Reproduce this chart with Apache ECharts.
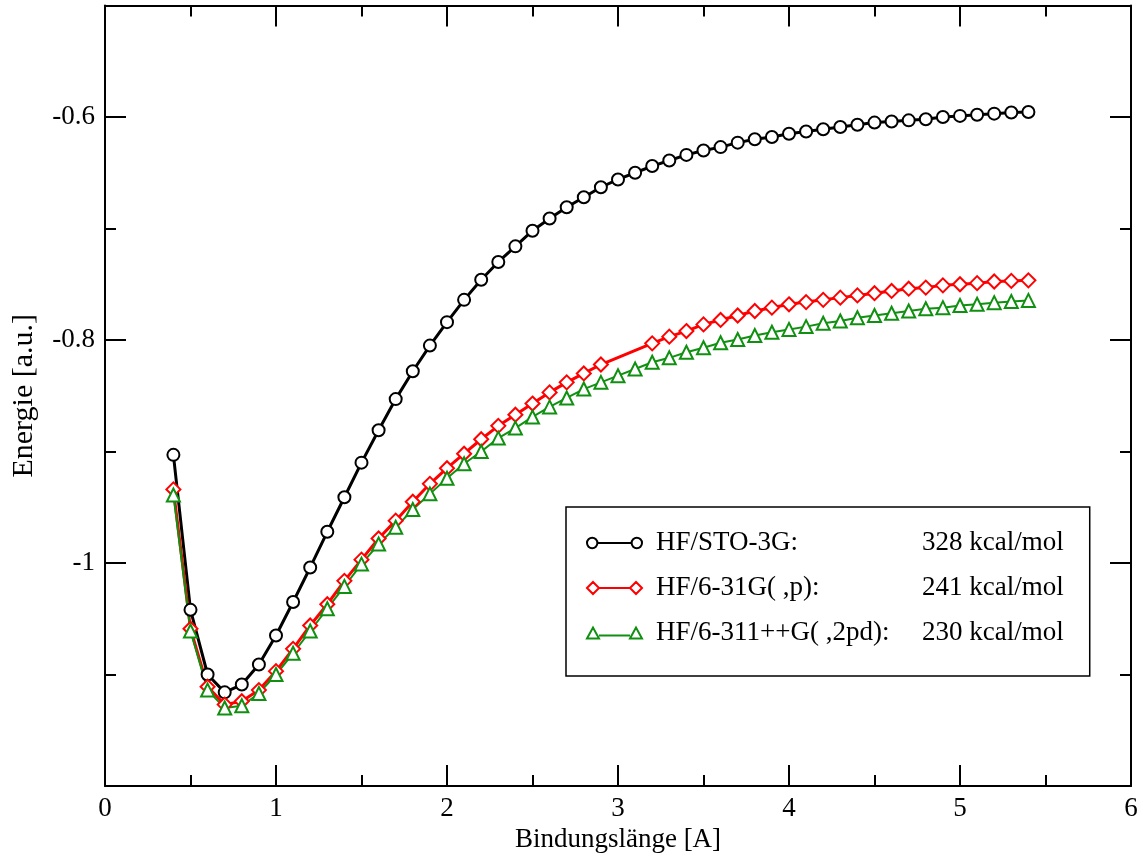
<!DOCTYPE html>
<html>
<head>
<meta charset="utf-8">
<title>Bindungslänge</title>
<script src="https://cdn.jsdelivr.net/npm/echarts@6.0.0/dist/echarts.min.js"></script>
<style>
  html, body { margin: 0; padding: 0; background: #fff; }
  #chart { width: 1143px; height: 860px; }
</style>
</head>
<body>
<div id="chart"></div>
<script>
// bond length [A]
var bondLengths = [0.4, 0.5, 0.6, 0.7, 0.8, 0.9, 1.0, 1.1, 1.2, 1.3,
                   1.4, 1.5, 1.6, 1.7, 1.8, 1.9, 2.0, 2.1, 2.2, 2.3,
                   2.4, 2.5, 2.6, 2.7, 2.8, 2.9, 3.0, 3.1, 3.2, 3.3,
                   3.4, 3.5, 3.6, 3.7, 3.8, 3.9, 4.0, 4.1, 4.2, 4.3,
                   4.4, 4.5, 4.6, 4.7, 4.8, 4.9, 5.0, 5.1, 5.2, 5.3, 5.4];

var energySTO3G = [-0.903, -1.042, -1.100, -1.116, -1.109, -1.091, -1.065, -1.035, -1.004, -0.972,
                   -0.941, -0.910, -0.881, -0.853, -0.828, -0.805, -0.784, -0.764, -0.746, -0.730,
                   -0.716, -0.702, -0.691, -0.681, -0.672, -0.663, -0.656, -0.650, -0.644, -0.639,
                   -0.634, -0.630, -0.627, -0.623, -0.620, -0.618, -0.615, -0.613, -0.611, -0.609,
                   -0.607, -0.605, -0.604, -0.603, -0.602, -0.600, -0.599, -0.598, -0.597, -0.596, -0.5955];

// 3.0 and 3.1 are missing in this set
var energy631G = [-0.934, -1.059, -1.111, -1.127, -1.124, -1.114, -1.097, -1.077, -1.056, -1.037,
                  -1.016, -0.997, -0.978, -0.962, -0.945, -0.929, -0.915, -0.902, -0.889, -0.877,
                  -0.867, -0.857, -0.847, -0.838, -0.830, -0.822, null, null, -0.803, -0.797,
                  -0.792, -0.786, -0.782, -0.778, -0.774, -0.771, -0.768, -0.766, -0.764, -0.762,
                  -0.760, -0.758, -0.756, -0.754, -0.753, -0.751, -0.750, -0.749, -0.7475, -0.747, -0.7465];

var energy6311G = [-0.939, -1.061, -1.114, -1.130, -1.128, -1.117, -1.100, -1.081, -1.061, -1.041,
                   -1.021, -1.001, -0.983, -0.968, -0.952, -0.938, -0.924, -0.911, -0.900, -0.888,
                   -0.879, -0.869, -0.860, -0.852, -0.844, -0.838, -0.832, -0.826, -0.820, -0.816,
                   -0.811, -0.807, -0.8025, -0.7995, -0.796, -0.793, -0.7905, -0.788, -0.785, -0.783,
                   -0.780, -0.778, -0.776, -0.774, -0.772, -0.771, -0.769, -0.768, -0.7665, -0.7655, -0.7645];

var seriesNames = ['HF/STO-3G:', 'HF/6-31G( ,p):', 'HF/6-311++G( ,2pd):'];
var bindingEnergies = [328, 241, 230];
var yLabelValues = [-0.6, -0.8, -1];

var FONT = 'Liberation Serif';

function toPairs(ys) {
    var out = [];
    for (var i = 0; i < bondLengths.length; i++) {
        out.push([bondLengths[i], ys[i]]);
    }
    return out;
}

// legend icons: marker - line - marker
var iconCircle = 'path://M1,6 A5,5 0 1,1 11,6 A5,5 0 1,1 1,6 Z M44,6 A5,5 0 1,1 54,6 A5,5 0 1,1 44,6 Z M11,6 L44,6';
var iconDiamond = 'path://M0,6 L6,0 L12,6 L6,12 Z M43,6 L49,0 L55,6 L49,12 Z M12,6 L43,6';
var iconTriangle = 'path://M0,12 L6,1 L12,12 Z M43,12 L49,1 L55,12 Z M12,9 L43,9';

var tickLine = { color: '#000', width: 2 };

var yBase = { type: 'value', min: -1.2, max: -0.5, splitLine: { show: false } };

var chart = echarts.init(document.getElementById('chart'));

var option = {
    animation: false,
    backgroundColor: '#fff',
    grid: { left: 105, right: 12, top: 5.5, bottom: 74, outerBoundsMode: 'none', containLabel: false },
    legend: {
        orient: 'vertical',
        left: 566,
        top: 507,
        padding: [21, 26, 28, 20],
        itemGap: 15,
        itemWidth: 55,
        itemHeight: 12,
        borderColor: '#000',
        borderWidth: 1.5,
        borderRadius: 0,
        backgroundColor: '#fff',
        selectedMode: false,
        textStyle: {
            fontFamily: FONT, fontSize: 27, color: '#000', lineHeight: 30, padding: [0, 0, 0, 9],
            rich: {
                n: { fontFamily: FONT, fontSize: 27, color: '#000', width: 266 },
                v: { fontFamily: FONT, fontSize: 27, color: '#000' }
            }
        },
        formatter: function (name) {
            var i = seriesNames.indexOf(name);
            return '{n|' + name + '}{v|' + bindingEnergies[i] + ' kcal/mol}';
        },
        data: [
            { name: seriesNames[0], icon: iconCircle, itemStyle: { color: '#fff', borderColor: '#000', borderWidth: 2 } },
            { name: seriesNames[1], icon: iconDiamond, itemStyle: { color: '#fff', borderColor: '#ff0000', borderWidth: 2 } },
            { name: seriesNames[2], icon: iconTriangle, itemStyle: { color: '#fff', borderColor: '#109010', borderWidth: 2 } }
        ]
    },
    xAxis: [
        {
            type: 'value', min: 0, max: 6, interval: 1, position: 'bottom',
            name: 'Bindungslänge [A]', nameLocation: 'middle', nameGap: 40,
            nameTextStyle: { fontFamily: FONT, fontSize: 27, color: '#000' },
            axisLine: { show: true, onZero: false, lineStyle: tickLine },
            axisTick: { show: true, inside: true, length: 21, lineStyle: tickLine },
            minorTick: { show: true, splitNumber: 2, length: 11, lineStyle: tickLine },
            axisLabel: { margin: 9, fontFamily: FONT, fontSize: 27, color: '#000' },
            splitLine: { show: false }
        },
        {
            type: 'value', min: 0, max: 6, interval: 1, position: 'top',
            axisLine: { show: true, onZero: false, lineStyle: tickLine },
            axisTick: { show: true, inside: true, length: 21, lineStyle: tickLine },
            minorTick: { show: true, splitNumber: 2, length: 11, lineStyle: tickLine },
            axisLabel: { show: false },
            splitLine: { show: false }
        }
    ],
    yAxis: [
        Object.assign({}, yBase, {
            interval: 0.2, position: 'left',
            name: 'Energie [a.u.]', nameLocation: 'middle', nameGap: 66,
            nameTextStyle: { fontFamily: FONT, fontSize: 30, color: '#000' },
            axisLine: { show: true, onZero: false, lineStyle: tickLine },
            axisTick: { show: true, inside: true, length: 21, lineStyle: tickLine },
            axisLabel: {
                margin: 10, fontFamily: FONT, fontSize: 27, color: '#000',
                formatter: function (v) {
                    for (var i = 0; i < yLabelValues.length; i++) {
                        if (Math.abs(v - yLabelValues[i]) < 1e-6) return String(yLabelValues[i]);
                    }
                    return '';
                }
            }
        }),
        Object.assign({}, yBase, {
            interval: 0.1, position: 'left',
            axisLine: { show: false, onZero: false },
            axisTick: { show: true, inside: true, length: 11, lineStyle: tickLine },
            axisLabel: { show: false }
        }),
        Object.assign({}, yBase, {
            interval: 0.2, position: 'right',
            axisLine: { show: true, onZero: false, lineStyle: tickLine },
            axisTick: { show: true, inside: true, length: 21, lineStyle: tickLine },
            axisLabel: { show: false }
        }),
        Object.assign({}, yBase, {
            interval: 0.1, position: 'right',
            axisLine: { show: false, onZero: false },
            axisTick: { show: true, inside: true, length: 11, lineStyle: tickLine },
            axisLabel: { show: false }
        })
    ],
    series: [
        {
            name: seriesNames[0], type: 'line', data: toPairs(energySTO3G),
            symbol: 'emptyCircle', symbolSize: 12,
            itemStyle: { color: '#000', borderWidth: 2 },
            lineStyle: { color: '#000', width: 3 }
        },
        {
            name: seriesNames[1], type: 'line', data: toPairs(energy631G), connectNulls: true,
            symbol: 'emptyDiamond', symbolSize: 14,
            itemStyle: { color: '#ff0000', borderWidth: 2 },
            lineStyle: { color: '#ff0000', width: 3 }
        },
        {
            name: seriesNames[2], type: 'line', data: toPairs(energy6311G),
            symbol: 'emptyTriangle', symbolSize: 13,
            itemStyle: { color: '#109010', borderWidth: 2 },
            lineStyle: { color: '#109010', width: 2 }
        }
    ]
};

chart.setOption(option);
</script>
</body>
</html>
